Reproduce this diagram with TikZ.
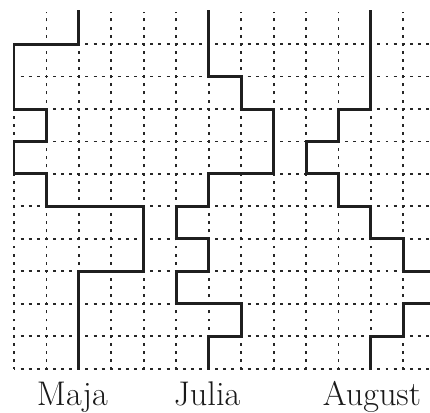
\documentclass[tikz,border=0pt]{standalone}
\usepackage{tikz}
\begin{document}
\begin{tikzpicture}[x=1cm,y=1cm,
  gridline/.style={line width=1.6pt, draw=black!85, dash pattern=on 2.6pt off 4.51pt, dash phase=1.3pt},
  walk/.style={line width=2.6pt, draw=black!88, line join=miter, line cap=rect},
  walkername/.style={font=\fontsize{30}{36}\selectfont, text=black!90, anchor=base, inner sep=0pt}]
\useasboundingbox (-0.431,-1.36) rectangle (12.82,11.36);
\clip (-0.431,-1.36) rectangle (12.82,11.36);
% dotted grid
\foreach \r in {0,...,10} \draw[gridline] (0,\r) -- (13.2,\r);
\draw[gridline] (0,0) -- (0,10);
\foreach \c in {1,...,12} \draw[gridline] (\c,0) -- (\c,11);
% Maja
\draw[walk] (2,11) -- (2,10) -- (0,10) -- (0,8) -- (1,8) -- (1,7) -- (0,7) -- (0,6) -- (1,6) -- (1,5) -- (4,5) -- (4,3) -- (2,3) -- (2,0);
% Julia
\draw[walk] (6,11) -- (6,9) -- (7,9) -- (7,8) -- (8,8) -- (8,6) -- (6,6) -- (6,5) -- (5,5) -- (5,4) -- (6,4) -- (6,3) -- (5,3) -- (5,2) -- (7,2) -- (7,1) -- (6,1) -- (6,0);
% August
\draw[walk] (11,11) -- (11,8) -- (10,8) -- (10,7) -- (9,7) -- (9,6) -- (10,6) -- (10,5) -- (11,5) -- (11,4) -- (12,4) -- (12,3) -- (13.3,3) -- (13.3,2) -- (12,2) -- (12,1) -- (11,1) -- (11,0);
% labels
\node[walkername] (maja) at (1.8,-1.13) {Maja};
\node[walkername] (julia) at (5.95,-1.13) {Julia};
\node[walkername] (august) at (11.03,-1.13) {August};
\end{tikzpicture}
\end{document}
